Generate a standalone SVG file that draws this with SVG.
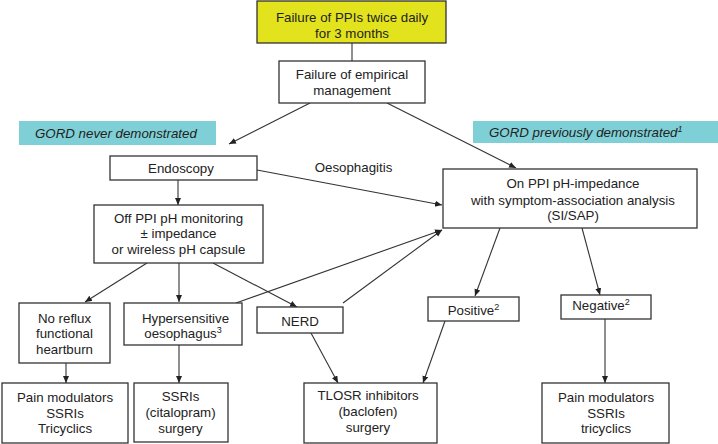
<svg xmlns="http://www.w3.org/2000/svg" width="718" height="444" viewBox="0 0 718 444">
<defs>
<style>
.b{fill:#fff;stroke:#333;stroke-width:1.3}
.y{fill:#e2e21d;stroke:#333;stroke-width:1.3}
.c{fill:#7fd0d6}
text{font-family:"Liberation Sans",Arial,sans-serif;font-size:13.3px;fill:#222}
.m{text-anchor:middle}
.i{font-style:italic}
.s{font-size:9px}
.e line{stroke:#333;stroke-width:1.1;fill:none}
.e .a{marker-end:url(#ah)}
</style>
<marker id="ah" markerUnits="userSpaceOnUse" markerWidth="8" markerHeight="7" refX="7" refY="3" orient="auto">
<path d="M0,0 L7,3 L0,6 z" fill="#222"/>
</marker>
</defs>
<rect width="718" height="444" fill="#fff"/>

<g id="labels">
<g id="gord-never"><rect class="c" x="19" y="121" width="197" height="24"/><text class="i" x="35" y="137.5">GORD never demonstrated</text></g>
<g id="gord-prev"><rect class="c" x="473" y="121" width="245" height="22"/><text class="i" x="489" y="137">GORD previously demonstrated<tspan class="s" dy="-5">1</tspan></text></g>
<text id="oesophagitis" class="m" x="353.5" y="171.5">Oesophagitis</text>
</g>

<g class="e" id="connectors">
<line x1="352" y1="43" x2="352" y2="61"/>
<line class="a" x1="310" y1="103" x2="229" y2="144"/>
<line class="a" x1="387" y1="103" x2="516" y2="168"/>
<line class="a" x1="178" y1="180" x2="178" y2="205"/>
<line class="a" x1="257" y1="170" x2="442" y2="205"/>
<line class="a" x1="147" y1="263" x2="85" y2="302"/>
<line class="a" x1="179" y1="263" x2="179" y2="302"/>
<line class="a" x1="213" y1="263" x2="297" y2="307"/>
<line class="a" x1="236" y1="303" x2="442" y2="230"/>
<line class="a" x1="343" y1="303" x2="442" y2="230"/>
<line class="a" x1="500" y1="228" x2="475" y2="296"/>
<line class="a" x1="582" y1="228" x2="600" y2="295"/>
<line class="a" x1="311" y1="333" x2="338" y2="383"/>
<line class="a" x1="445" y1="321" x2="423" y2="383"/>
<line class="a" x1="66" y1="363" x2="66" y2="383"/>
<line class="a" x1="179" y1="345" x2="179" y2="383"/>
<line class="a" x1="605" y1="319" x2="605" y2="383"/>
</g>

<g id="ppi-fail"><rect class="y" x="257" y="1" width="189" height="42"/>
<text class="m" x="352" y="21.5">Failure of PPIs twice daily</text><text class="m" x="352" y="37.5">for 3 months</text></g>
<g id="empirical"><rect class="b" x="279" y="61" width="146" height="42"/>
<text class="m" x="352" y="78.5">Failure of empirical</text><text class="m" x="352" y="94.5">management</text></g>
<g id="endoscopy"><rect class="b" x="110" y="156" width="147" height="24"/>
<text class="m" x="181" y="172.5">Endoscopy</text></g>
<g id="offppi"><rect class="b" x="94" y="205" width="169" height="58"/>
<text class="m" x="178.5" y="222.5">Off PPI pH monitoring</text><text class="m" x="178.5" y="238">± impedance</text><text class="m" x="178.5" y="253.5">or wireless pH capsule</text></g>
<g id="onppi"><rect class="b" x="443" y="169" width="254" height="59"/>
<text class="m" x="573" y="188">On PPI pH-impedance</text><text class="m" x="573" y="204.5">with symptom-association analysis</text><text class="m" x="573" y="220">(SI/SAP)</text></g>
<g id="noreflux"><rect class="b" x="19" y="303" width="91" height="60"/>
<text class="m" x="64.5" y="322.5">No reflux</text><text class="m" x="64.5" y="338">functional</text><text class="m" x="64.5" y="353.5">heartburn</text></g>
<g id="hyper"><rect class="b" x="124" y="303" width="118" height="42"/>
<text class="m" x="185.5" y="322.5">Hypersensitive</text><text class="m" x="183" y="338">oesophagus<tspan class="s" dy="-5">3</tspan></text></g>
<g id="nerd"><rect class="b" x="257" y="307" width="86" height="26"/>
<text class="m" x="300" y="325.5">NERD</text></g>
<g id="positive"><rect class="b" x="428" y="297" width="91" height="24"/>
<text class="m" x="473.5" y="314.5">Positive<tspan class="s" dy="-5">2</tspan></text></g>
<g id="negative"><rect class="b" x="561" y="295" width="90" height="24"/>
<text class="m" x="601" y="309.5">Negative<tspan class="s" dy="-5">2</tspan></text></g>
<g id="pain1"><rect class="b" x="2" y="383" width="126" height="60"/>
<text class="m" x="65" y="401.5">Pain modulators</text><text class="m" x="65" y="417.5">SSRIs</text><text class="m" x="65" y="432.5">Tricyclics</text></g>
<g id="ssris"><rect class="b" x="134" y="383" width="94" height="59"/>
<text class="m" x="180.5" y="400.5">SSRIs</text><text class="m" x="180.5" y="416.5">(citalopram)</text><text class="m" x="180.5" y="432.5">surgery</text></g>
<g id="tlosr"><rect class="b" x="304" y="383" width="133" height="60"/>
<text class="m" x="368" y="399.5">TLOSR inhibitors</text><text class="m" x="368" y="415.5">(baclofen)</text><text class="m" x="368" y="431.5">surgery</text></g>
<g id="pain2"><rect class="b" x="542" y="383" width="127" height="60"/>
<text class="m" x="606" y="401.5">Pain modulators</text><text class="m" x="606" y="417.5">SSRIs</text><text class="m" x="606" y="432.5">tricyclics</text></g>
</svg>
